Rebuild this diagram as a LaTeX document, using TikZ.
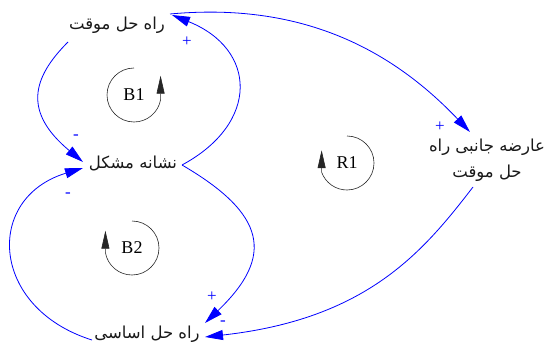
\documentclass[tikz,border=0pt]{standalone}
\usepackage{fontspec}
\setmainfont{Liberation Serif}
\newfontfamily\arabicfont[Script=Arabic]{DejaVu Sans}
\TeXXeTstate=1
\usetikzlibrary{arrows.meta,calc}
\begin{document}
\begin{tikzpicture}[x=1pt,y=-1pt,
  var/.style={font=\arabicfont\fontsize{16.5}{26}\selectfont, text=black!90, inner sep=0pt, align=center},
  link/.style={draw=blue, line width=0.8pt, -{Triangle[length=18pt,width=10pt]}},
  sign/.style={text=blue, font=\fontsize{17}{17}\selectfont, inner sep=0pt},
  loopname/.style={font=\fontsize{18}{18}\selectfont, inner sep=0pt},
  looparc/.style={draw=black!85, line width=0.6pt, -{Triangle[length=18pt,width=8pt]}}]
\useasboundingbox (0,0) rectangle (557,345);

\node[var] (A) at (117,25) {\beginR راه حل موقت\endR};
\node[var] (P) at (133,163) {\beginR نشانه مشکل\endR};
\node[var] (F) at (147,334) {\beginR راه حل اساسی\endR};
\node[var] (S) at (487,160) {\beginR عارضه جانبی راه\endR\\\beginR حل موقت\endR};

\draw[link] ($(A)+(-49,17)$) .. controls (32,78) and (23,112) .. ($(P)+(-50,-1)$);
\draw[link] ($(P)+(49,2)$) .. controls (260,123) and (257,49) .. ($(A)+(55,-10)$);
\draw[link] ($(A)+(53,-11)$) .. controls (300,2) and (390,48) .. ($(S)+(-17,-28)$);
\draw[link] ($(S)+(-14,27)$) .. controls (423,252) and (367,319) .. ($(F)+(58,3)$);
\draw[link] ($(P)+(49,2)$) .. controls (266,214) and (275,256) .. ($(F)+(58,-11)$);
\draw[link] ($(F)+(-55,6)$) .. controls (-10,308) and (-16,198) .. ($(P)+(-50,5)$);

\node[sign] (s1) at (76,137) {-};
\node[sign] (s2) at (187,42) {+};
\node[sign] (s3) at (440,127) {+};
\node[sign] (s4) at (223,323) {-};
\node[sign] (s5) at (212,297) {+};
\node[sign] (s6) at (68,195) {-};

\node[loopname] (B1) at (134,95) {B1};
\draw[looparc] ($(B1)+(0,-27)$) arc[start angle=90,end angle=350,radius=27pt] -- ++(0,-24);
\node[loopname] (B2) at (132,248) {B2};
\draw[looparc] ($(B2)+(0,-27)$) arc[start angle=90,end angle=-170,radius=27pt] -- ++(0,-22);
\node[loopname] (R1) at (347,163) {R1};
\draw[looparc] ($(R1)+(0,-27)$) arc[start angle=90,end angle=-160,radius=27pt] -- ++(0,-22);
\end{tikzpicture}
\end{document}
